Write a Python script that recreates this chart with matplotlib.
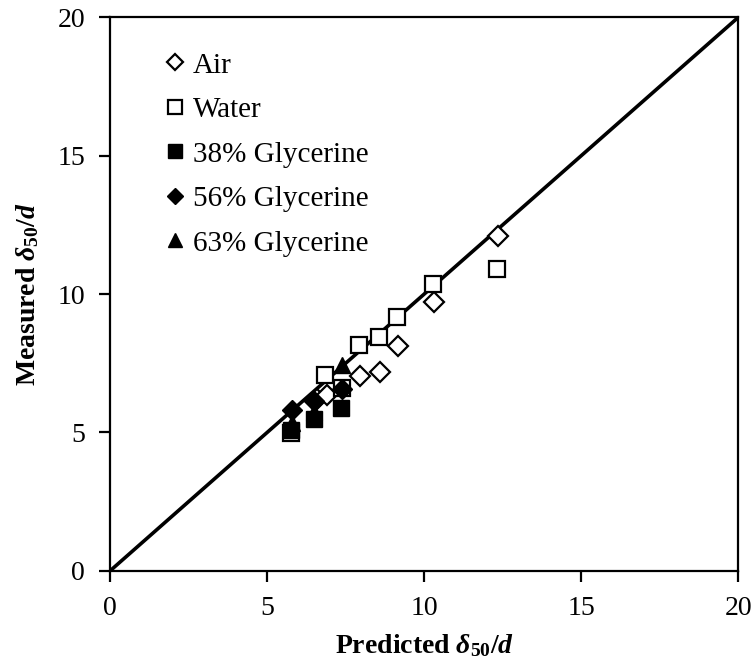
import matplotlib
matplotlib.use('Agg')
import matplotlib.pyplot as plt

plt.rcParams['font.family'] = ['Liberation Serif', 'DejaVu Serif']
plt.rcParams['mathtext.fontset'] = 'custom'
plt.rcParams['mathtext.rm'] = 'Liberation Serif:bold'
plt.rcParams['mathtext.it'] = 'Liberation Serif:italic:bold'
plt.rcParams['mathtext.bf'] = 'Liberation Serif:bold'

# predicted / measured delta50/d for each fluid
air_x = [6.6, 6.9, 7.96, 8.6, 9.18, 10.3, 12.36]
air_y = [6.2, 6.37, 7.04, 7.2, 8.12, 9.72, 12.1]
water_x = [5.75, 6.85, 7.38, 7.93, 8.57, 9.13, 10.28, 12.32]
water_y = [4.97, 7.08, 6.6, 8.16, 8.46, 9.18, 10.35, 10.9]
gly38_x = [5.75, 6.5, 7.35]
gly38_y = [5.1, 5.5, 5.87]
gly56_x = [5.78, 6.5, 7.38]
gly56_y = [5.83, 6.15, 6.56]
gly63_x = [5.78, 6.5, 7.38]
gly63_y = [5.35, 5.75, 7.44]

fig = plt.figure(figsize=(7.54, 6.70), dpi=100)
ax = fig.add_axes([0.146, 0.148, 0.833, 0.826])

ax.plot([0, 20], [0, 20], color='black', lw=2.6, zorder=1)

ax.plot(air_x, air_y, 'D', ms=10, mfc='white', mec='black', mew=1.6,
        ls='none', label='Air', zorder=2)
ax.plot(water_x, water_y, 's', ms=12, mfc='white', mec='black', mew=1.6,
        ls='none', label='Water', zorder=3)
ax.plot(gly38_x, gly38_y, 's', ms=12, color='black', ls='none',
        label='38% Glycerine', zorder=4)
ax.plot(gly56_x, gly56_y, 'D', ms=10, color='black', ls='none',
        label='56% Glycerine', zorder=5)
ax.plot(gly63_x, gly63_y, '^', ms=12, color='black', ls='none',
        label='63% Glycerine', zorder=6)

ax.set_xlim(0, 20)
ax.set_ylim(0, 20)
ax.set_xticks([0, 5, 10, 15, 20])
ax.set_yticks([0, 5, 10, 15, 20])
ax.tick_params(direction='out', length=8, width=1.6, labelsize=20,
               top=False, right=False, pad=10)
for s in ax.spines.values():
    s.set_linewidth(1.6)

ax.set_xlabel(r'Predicted $\delta_{50}/d$', fontsize=20, fontweight='bold', labelpad=8)
ax.set_ylabel(r'Measured $\delta_{50}/d$', fontsize=20, fontweight='bold', labelpad=12)

leg = ax.legend(loc='upper left', bbox_to_anchor=(0.085, 0.937), frameon=False,
                fontsize=21, handlelength=0.8, handletextpad=0.2, labelspacing=0.62,
                borderaxespad=0, borderpad=0, markerscale=0.85)

fig.savefig('out.png', dpi=100)
